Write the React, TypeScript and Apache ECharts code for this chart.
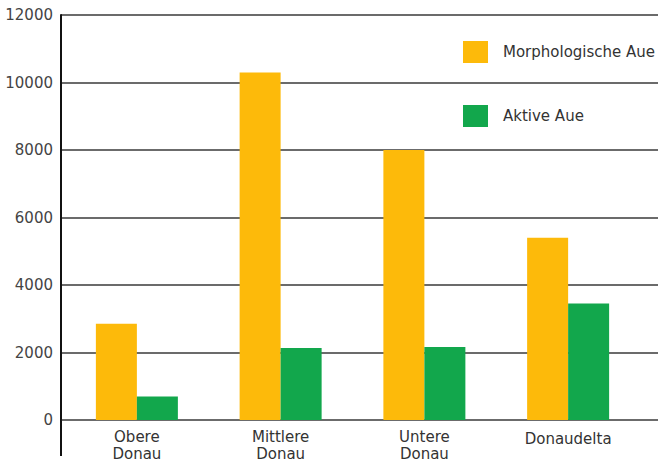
import React, { useEffect, useRef } from "react";
import * as echarts from "echarts";

const categories = ["Obere\nDonau", "Mittlere\nDonau", "Untere\nDonau", "Donaudelta"];
const morphologischeAue = [2850, 10300, 8000, 5400];
const aktiveAue = [700, 2130, 2160, 3450];
const seriesNames = ["Morphologische Aue", "Aktive Aue"];
const yMin = 0;
const yMax = 12000;
const yInterval = 2000;

const FONT = "DejaVu Sans";

export default function App() {
  const ref = useRef<HTMLDivElement>(null);
  useEffect(() => {
    if (!ref.current) return;
    const chart = echarts.init(ref.current, null, { renderer: "svg" });
    chart.setOption({
      animation: false,
      backgroundColor: "#ffffff",
      grid: [
        { left: 65, right: 27, top: 15, bottom: 41, containLabel: false, outerBoundsMode: "none" },
        { left: 61, right: 9, top: 15, bottom: 41, containLabel: false, outerBoundsMode: "none" },
      ],
      legend: {
        orient: "vertical",
        left: 463,
        top: 41,
        padding: 0,
        itemWidth: 25,
        itemHeight: 22,
        itemGap: 42,
        icon: "rect",
        data: seriesNames,
        textStyle: {
          fontFamily: FONT,
          fontSize: 15,
          color: "#333",
          padding: [0, 0, 0, 10],
        },
      },
      xAxis: [
        {
          type: "category",
          gridIndex: 0,
          data: categories,
          axisLine: { show: false },
          axisTick: { show: false },
          axisLabel: {
            interval: 0,
            hideOverlap: false,
            fontFamily: FONT,
            fontSize: 15,
            lineHeight: 17,
            color: "#333",
            margin: 8,
            formatter: (v: string) => (v.indexOf("\n") >= 0 ? v : `{s|${v}}`),
            rich: {
              s: {
                fontFamily: FONT,
                fontSize: 15,
                lineHeight: 17,
                color: "#333",
                padding: [5, 0, 0, 0],
              },
            },
          },
        },
        {
          type: "category",
          gridIndex: 1,
          data: categories,
          show: false,
        },
      ],
      yAxis: [
        {
          type: "value",
          gridIndex: 0,
          min: yMin,
          max: yMax,
          interval: yInterval,
          show: false,
          splitLine: { show: false },
        },
        {
          type: "value",
          gridIndex: 1,
          min: yMin,
          max: yMax,
          interval: yInterval,
          axisLine: { show: true, lineStyle: { color: "#111", width: 2 } },
          axisTick: { show: false },
          splitLine: { show: true, lineStyle: { color: "#3a3a3a", width: 1.5 } },
          axisLabel: {
            fontFamily: FONT,
            fontSize: 15,
            color: "#444",
            margin: 8,
            formatter: (v: number) => String(v),
          },
        },
      ],
      graphic: [
        {
          type: "line",
          shape: { x1: 61, y1: 420, x2: 61, y2: 456 },
          style: { stroke: "#111", lineWidth: 2 },
        },
      ],
      series: [
        {
          name: seriesNames[0],
          type: "bar",
          xAxisIndex: 0,
          yAxisIndex: 0,
          data: morphologischeAue,
          barWidth: 41,
          barGap: "0%",
          itemStyle: { color: "#FDBA0A" },
        },
        {
          name: seriesNames[1],
          type: "bar",
          xAxisIndex: 0,
          yAxisIndex: 0,
          data: aktiveAue,
          barWidth: 41,
          barGap: "0%",
          itemStyle: { color: "#12A74C" },
        },
      ],
    });
    return () => chart.dispose();
  }, []);
  return <div ref={ref} style={{ width: 667, height: 461, position: "absolute", left: 0, top: 0 }} />;
}
